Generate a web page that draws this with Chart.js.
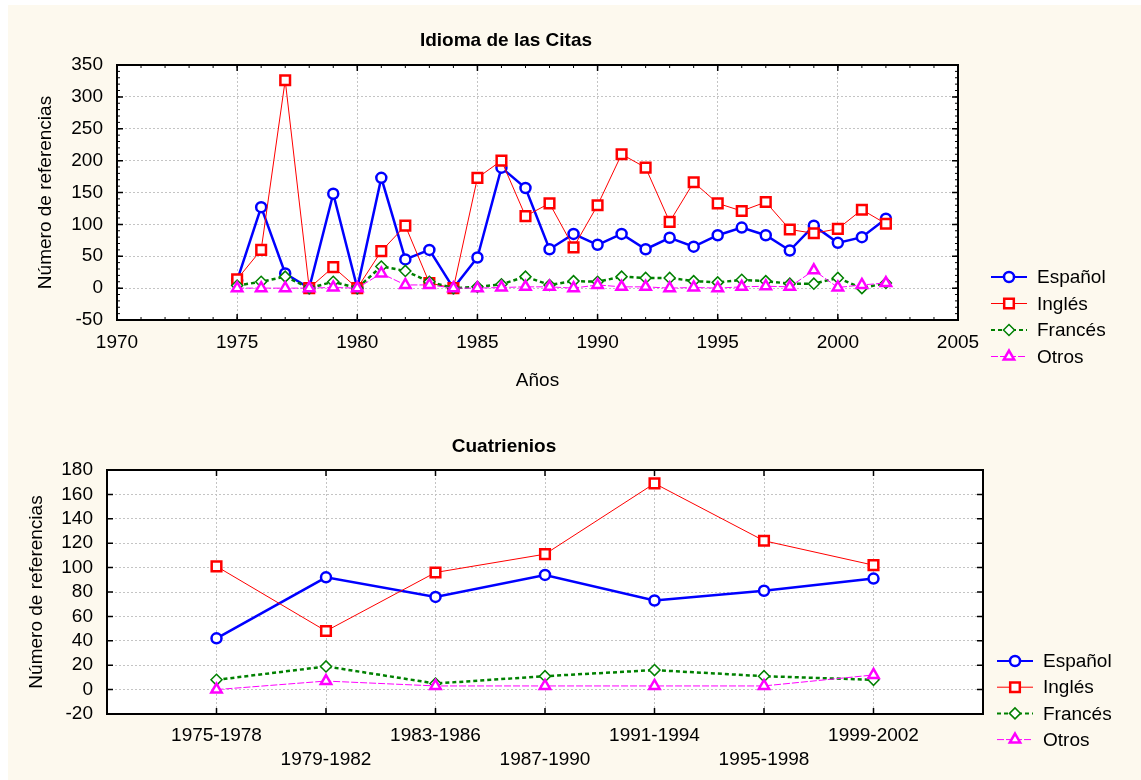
<!DOCTYPE html>
<html lang="es">
<head>
<meta charset="utf-8">
<title>Idioma de las Citas</title>
<script src="https://cdn.jsdelivr.net/npm/chart.js@4.4.1/dist/chart.umd.min.js"></script>
<style>
  html, body { margin: 0; padding: 0; background: #fff; }
  #page { position: relative; width: 1141px; height: 780px; overflow: hidden; }
  #sheet { position: absolute; left: 8px; top: 5px; width: 1133px; height: 775px; background: #fdf9ee; }
  canvas { position: absolute; left: 0; }
  #c-anual { top: 0; }
  #c-cuatri { top: 400px; }
</style>
</head>
<body>
<div id="page">
  <div id="sheet"></div>
  <canvas id="c-anual" width="1141" height="400"></canvas>
  <canvas id="c-cuatri" width="1141" height="380"></canvas>
</div>
<script>
// ── Datos ────────────────────────────────────────────────────────────────
const SERIES = ["Español", "Inglés", "Francés", "Otros"];

const YEARS = [1975, 1976, 1977, 1978, 1979, 1980, 1981, 1982, 1983, 1984,
               1985, 1986, 1987, 1988, 1989, 1990, 1991, 1992, 1993, 1994,
               1995, 1996, 1997, 1998, 1999, 2000, 2001, 2002];
const espanolAnual = [12, 127, 23, 0, 148, 0, 173, 45, 60, 0, 48, 189, 157, 61,
                      85, 68, 85, 61, 79, 65, 83, 95, 83, 59, 98, 71, 80, 109];
const inglesAnual  = [14, 60, 326, 0, 33, 0, 58, 98, 8, 0, 173, 200, 113, 133,
                      64, 130, 210, 189, 104, 166, 133, 121, 135, 92, 86, 93, 123, 101];
const francesAnual = [4, 10, 18, 0, 10, 0, 34, 27, 10, 0, 2, 6, 18, 5,
                      11, 10, 18, 16, 16, 11, 9, 13, 11, 7, 7, 16, 0, 8];
const otrosAnual   = [0, 0, 0, 0, 1, 0, 23, 5, 5, 0, 0, 1, 2, 2,
                      0, 5, 2, 2, 0, 1, 0, 2, 3, 2, 28, 1, 5, 8];

const CUATRIENIOS = ["1975-1978", "1979-1982", "1983-1986", "1987-1990",
                     "1991-1994", "1995-1998", "1999-2002"];
const espanolCuatri = [42, 92, 76, 94, 73, 81, 91];
const inglesCuatri  = [101, 48, 96, 111, 169, 122, 102];
const francesCuatri = [8, 19, 5, 11, 16, 11, 8];
const otrosCuatri   = [0, 7, 3, 3, 3, 3, 12];

// ── Estilo común ─────────────────────────────────────────────────────────
Chart.defaults.font.family = "'Liberation Sans', Arial, sans-serif";
Chart.defaults.font.size = 19;
Chart.defaults.color = "#000";

const ESTILOS = [
  { borderColor: "#0000ff", borderWidth: 2.5, borderDash: [], pointStyle: "circle", pointRadius: 5, pointBorderWidth: 2.5, order: 3 },
  { borderColor: "#ff0000", borderWidth: 1, borderDash: [], pointStyle: "rect", pointRadius: 6.8, pointBorderWidth: 2.5, order: 2 },
  { borderColor: "#008000", borderWidth: 2.5, borderDash: [4, 3], pointStyle: "rectRot", pointRadius: 5.5, pointBorderWidth: 1.5, order: 1 },
  { borderColor: "#ff00ff", borderWidth: 1, borderDash: [7, 2], pointStyle: "triangle", pointRadius: 6, pointBorderWidth: 2.5, order: 0 },
];

function puntos(xs, ys) {
  return ys.map((v, i) => ({ x: xs[i], y: v }));
}

function series(xs, valores) {
  return valores.map((ys, i) => ({
    label: SERIES[i],
    data: puntos(xs, ys),
    ...ESTILOS[i],
    pointBorderColor: ESTILOS[i].borderColor,
    pointBackgroundColor: "#fff",
    fill: false,
    tension: 0,
  }));
}

// Marco negro, marcas interiores, título y leyenda al estilo Statistica
const marco = {
  id: "marco",
  beforeDraw(chart) {
    const { ctx, chartArea: a } = chart;
    ctx.save();
    ctx.fillStyle = "#fff";
    ctx.fillRect(a.left, a.top, a.right - a.left, a.bottom - a.top);
    ctx.restore();
  },
  afterDraw(chart, args, opts) {
    const { ctx, chartArea: a, scales: { x, y } } = chart;
    ctx.save();
    ctx.strokeStyle = "#000";

    const marcas = (xs, ys, len) => {
      ctx.beginPath();
      xs.forEach(px => {
        ctx.moveTo(px, a.top); ctx.lineTo(px, a.top + len);
        ctx.moveTo(px, a.bottom); ctx.lineTo(px, a.bottom - len);
      });
      ys.forEach(py => {
        ctx.moveTo(a.left, py); ctx.lineTo(a.left + len, py);
        ctx.moveTo(a.right, py); ctx.lineTo(a.right - len, py);
      });
      ctx.stroke();
    };
    const paso = (s, step) => {
      const out = [];
      if (!step) return out;
      for (let v = s.min; v <= s.max + 1e-9; v += step) out.push(s.getPixelForValue(v));
      return out;
    };
    ctx.lineWidth = 1;
    marcas(paso(x, opts.xMinor), paso(y, opts.yMinor), 3);
    ctx.lineWidth = 1.5;
    marcas(x.ticks.map(t => x.getPixelForValue(t.value)),
           y.ticks.map(t => y.getPixelForValue(t.value)), 6);

    ctx.lineWidth = 2;
    ctx.strokeRect(a.left, a.top, a.right - a.left, a.bottom - a.top);

    // título
    ctx.fillStyle = "#000";
    ctx.font = "bold 19px 'Liberation Sans', Arial, sans-serif";
    ctx.textAlign = "center";
    ctx.textBaseline = "alphabetic";
    ctx.fillText(opts.titulo, opts.tituloX, opts.tituloY);

    // leyenda
    const L = opts.leyenda;
    ctx.font = "19px 'Liberation Sans', Arial, sans-serif";
    ctx.textAlign = "left";
    ctx.textBaseline = "middle";
    chart.data.datasets.forEach((ds, i) => {
      const yy = L.y + i * L.dy;
      ctx.strokeStyle = ds.borderColor;
      ctx.lineWidth = Math.min(ds.borderWidth, 2);
      ctx.setLineDash(ds.borderDash);
      ctx.beginPath();
      ctx.moveTo(L.x, yy);
      ctx.lineTo(L.x + 36, yy);
      ctx.stroke();
      ctx.setLineDash([]);
      ctx.fillStyle = "#fff";
      ctx.lineWidth = ds.pointBorderWidth;
      Chart.helpers.drawPoint(ctx, {
        pointStyle: ds.pointStyle, radius: ds.pointRadius,
        borderWidth: ds.pointBorderWidth, rotation: 0,
      }, L.x + 18, yy);
      ctx.fillStyle = "#000";
      ctx.fillText(ds.label, L.x + 46, yy + 1);
    });
    ctx.restore();
  },
};

const grid = { color: "#c4c4c4", drawTicks: false, lineWidth: 1 };
const border = { display: false, dash: [2, 2] };

// ── 1. Idioma de las Citas (anual) ───────────────────────────────────────
new Chart(document.getElementById("c-anual"), {
  type: "line",
  data: {
    datasets: series(YEARS, [espanolAnual, inglesAnual, francesAnual, otrosAnual]),
  },
  plugins: [marco],
  options: {
    responsive: false,
    animation: false,
    events: [],
    layout: { padding: { top: 65, right: 183, bottom: 0, left: 0 } },
    plugins: {
      legend: { display: false },
      tooltip: { enabled: false },
      marco: {
        titulo: "Idioma de las Citas", tituloX: 506, tituloY: 46,
        xMinor: 1, yMinor: 10,
        leyenda: { x: 991, y: 277, dy: 26.5 },
      },
    },
    scales: {
      x: {
        type: "linear", min: 1970, max: 2005,
        ticks: { stepSize: 5, padding: 11, maxRotation: 0, autoSkip: false, callback: v => String(v) },
        grid, border,
        title: { display: true, text: "Años", padding: { top: 0, bottom: 8 } },
        afterFit: s => { s.height = 80; },
      },
      y: {
        type: "linear", min: -50, max: 350,
        ticks: { stepSize: 50, padding: 14, autoSkip: false },
        grid, border,
        title: { display: true, text: "Número de referencias", padding: { top: 34, bottom: 0 } },
        afterFit: s => { s.width = 117; },
      },
    },
  },
});

// ── 2. Cuatrienios ───────────────────────────────────────────────────────
const posCuatri = CUATRIENIOS.map((c, i) => i + 1);

new Chart(document.getElementById("c-cuatri"), {
  type: "line",
  data: {
    datasets: series(posCuatri, [espanolCuatri, inglesCuatri, francesCuatri, otrosCuatri]),
  },
  plugins: [marco],
  options: {
    responsive: false,
    animation: false,
    events: [],
    layout: { padding: { top: 70, right: 158, bottom: 0, left: 0 } },
    plugins: {
      legend: { display: false },
      tooltip: { enabled: false },
      marco: {
        titulo: "Cuatrienios", tituloX: 504, tituloY: 52,
        xMinor: 0, yMinor: 0,
        leyenda: { x: 997, y: 261, dy: 26.2 },
      },
    },
    scales: {
      x: {
        type: "linear", min: 0, max: CUATRIENIOS.length + 1,
        ticks: {
          stepSize: 1, padding: 9, maxRotation: 0, autoSkip: false,
          font: { size: 19, lineHeight: 1.3 },
          callback: v => {
            const i = v - 1;
            if (i < 0 || i >= CUATRIENIOS.length) return "";
            return i % 2 === 0 ? CUATRIENIOS[i] : ["", CUATRIENIOS[i]];
          },
        },
        grid, border,
        afterFit: s => { s.height = 66; },
      },
      y: {
        type: "linear", min: -20, max: 180,
        ticks: { stepSize: 20, padding: 14, autoSkip: false },
        grid, border,
        title: { display: true, text: "Número de referencias", padding: { top: 25, bottom: 0 } },
        afterFit: s => { s.width = 107; },
      },
    },
  },
});
</script>
</body>
</html>
